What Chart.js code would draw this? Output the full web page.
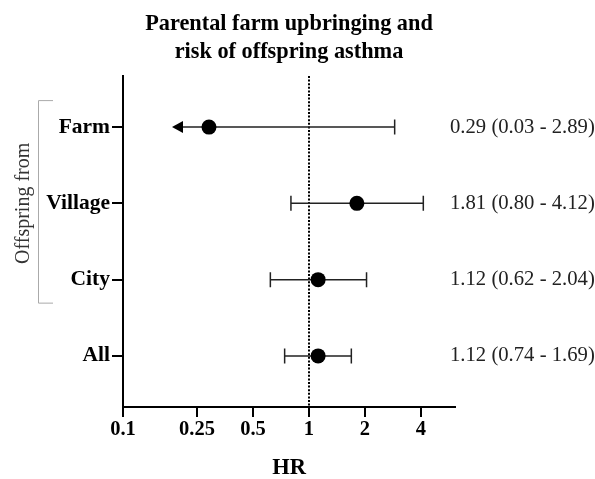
<!DOCTYPE html>
<html>
<head>
<meta charset="utf-8">
<script src="https://cdn.jsdelivr.net/npm/chart.js@4.4.1/dist/chart.umd.min.js"></script>
<style>
  html, body { margin: 0; padding: 0; background: #fff; }
  #wrap { width: 595px; height: 479px; }
</style>
</head>
<body>
<div id="wrap"><canvas id="forestChart"></canvas></div>
<script>
// data
var groups = ['Farm', 'Village', 'City', 'All'];
var hr = [0.29, 1.81, 1.12, 1.12];
var ciLow = [0.03, 0.80, 0.62, 0.74];
var ciHigh = [2.89, 4.12, 2.04, 1.69];
var xTicks = [0.1, 0.25, 0.5, 1, 2, 4];
var titleLines = ['Parental farm upbringing and', 'risk of offspring asthma'];
var groupTitle = 'Offspring from';
var bracketRows = [0, 2]; // Farm .. City
var refValue = 1;

var serif = 'Liberation Serif, Times New Roman, serif';
Chart.defaults.font.family = serif;
Chart.defaults.color = '#000';

var points = groups.map(function(g, i) {
    return { x: hr[i], y: i };
});

// error bars, reference line, annotations and the bracket
var forestPlugin = {
    id: 'forest',
    beforeDatasetsDraw: function(chart) {
        var ctx = chart.ctx;
        var xs = chart.scales.x;
        var ys = chart.scales.y;
        var area = chart.chartArea;

        // dotted line at HR = 1
        var xr = Math.round(xs.getPixelForValue(refValue));
        ctx.save();
        ctx.strokeStyle = '#000';
        ctx.lineWidth = 2;
        ctx.setLineDash([2, 1.6]);
        ctx.beginPath();
        ctx.moveTo(xr, area.top);
        ctx.lineTo(xr, area.bottom);
        ctx.stroke();
        ctx.restore();

        ctx.save();
        ctx.strokeStyle = '#222';
        ctx.fillStyle = '#000';
        ctx.lineWidth = 1.5;
        for (var i = 0; i < groups.length; i++) {
            var y = ys.getPixelForValue(i);
            var xh = xs.getPixelForValue(ciHigh[i]);
            var xl;
            var clipped = ciLow[i] < xs.min;
            if (clipped) {
                xl = xs.getPixelForValue(hr[i]) - 26;
            } else {
                xl = xs.getPixelForValue(ciLow[i]);
            }
            ctx.beginPath();
            ctx.moveTo(xl, y);
            ctx.lineTo(xh, y);
            // caps
            ctx.moveTo(xh, y - 7.5);
            ctx.lineTo(xh, y + 7.5);
            if (!clipped) {
                ctx.moveTo(xl, y - 7.5);
                ctx.lineTo(xl, y + 7.5);
            }
            ctx.stroke();
            if (clipped) {
                ctx.beginPath();
                ctx.moveTo(xl, y - 6);
                ctx.lineTo(xl - 11, y);
                ctx.lineTo(xl, y + 6);
                ctx.closePath();
                ctx.fill();
            }
        }
        ctx.restore();
    },
    afterDraw: function(chart) {
        var ctx = chart.ctx;
        var ys = chart.scales.y;

        // HR (CI) text on the right
        ctx.save();
        ctx.font = '20.7px ' + serif;
        ctx.fillStyle = '#222';
        ctx.textAlign = 'left';
        ctx.textBaseline = 'middle';
        for (var i = 0; i < groups.length; i++) {
            var txt = hr[i].toFixed(2) + ' (' + ciLow[i].toFixed(2) + ' - ' + ciHigh[i].toFixed(2) + ')';
            ctx.fillText(txt, 450, ys.getPixelForValue(i));
        }
        ctx.restore();

        // bracket around the offspring groups
        var top = ys.getPixelForValue(bracketRows[0]) - 27;
        var bottom = ys.getPixelForValue(bracketRows[1]) + 23;
        ctx.save();
        ctx.strokeStyle = '#aaa';
        ctx.lineWidth = 1;
        ctx.beginPath();
        ctx.moveTo(53, top + 0.5);
        ctx.lineTo(38.5, top + 0.5);
        ctx.lineTo(38.5, bottom + 0.5);
        ctx.lineTo(53, bottom + 0.5);
        ctx.stroke();

        ctx.translate(24, (ys.getPixelForValue(bracketRows[0]) + ys.getPixelForValue(bracketRows[1])) / 2);
        ctx.rotate(-Math.PI / 2);
        ctx.font = '20px ' + serif;
        ctx.fillStyle = '#333';
        ctx.textAlign = 'center';
        ctx.textBaseline = 'middle';
        ctx.fillText(groupTitle, 0, 0);
        ctx.restore();
    }
};

new Chart(document.getElementById('forestChart'), {
    type: 'scatter',
    data: {
        datasets: [{
            data: points,
            pointRadius: 7.5,
            pointHoverRadius: 7.5,
            backgroundColor: '#000',
            borderWidth: 0
        }]
    },
    options: {
        responsive: true,
        maintainAspectRatio: false,
        animation: false,
        layout: {
            padding: { left: 0, right: 140, top: 0, bottom: 0 }
        },
        scales: {
            x: {
                type: 'logarithmic',
                min: 0.1,
                max: 6.1,
                afterBuildTicks: function(scale) {
                    scale.ticks = xTicks.map(function(v) { return { value: v, major: false }; });
                },
                afterFit: function(scale) {
                    scale.height = 72;
                },
                ticks: {
                    autoSkip: false,
                    maxRotation: 0,
                    padding: 0,
                    color: '#000',
                    font: { size: 20.5, weight: 'bold' },
                    callback: function(value) {
                        return String(value);
                    }
                },
                grid: {
                    drawOnChartArea: false,
                    drawTicks: true,
                    tickLength: 10,
                    color: '#000',
                    lineWidth: 2
                },
                border: { display: true, color: '#000', width: 2 },
                title: {
                    display: true,
                    text: 'HR',
                    color: '#000',
                    font: { size: 22.5, weight: 'bold', lineHeight: 1 },
                    padding: { top: 0, bottom: 0 }
                }
            },
            y: {
                type: 'linear',
                min: -0.67,
                max: 3.67,
                reverse: true,
                afterBuildTicks: function(scale) {
                    scale.ticks = groups.map(function(g, i) { return { value: i }; });
                },
                afterFit: function(scale) {
                    scale.width = 123;
                },
                ticks: {
                    autoSkip: false,
                    padding: 2,
                    color: '#000',
                    font: { size: 21.5, weight: 'bold' },
                    callback: function(value) {
                        return groups[value];
                    }
                },
                grid: {
                    drawOnChartArea: false,
                    drawTicks: true,
                    tickLength: 11,
                    color: '#000',
                    lineWidth: 2
                },
                border: { display: true, color: '#000', width: 2 }
            }
        },
        plugins: {
            legend: { display: false },
            tooltip: { enabled: false },
            title: {
                display: true,
                text: titleLines,
                fullSize: false,
                color: '#000',
                font: { size: 22.3, weight: 'bold', lineHeight: 28 / 22.3 },
                padding: { top: 10, bottom: 10 }
            }
        }
    },
    plugins: [forestPlugin]
});
</script>
</body>
</html>
